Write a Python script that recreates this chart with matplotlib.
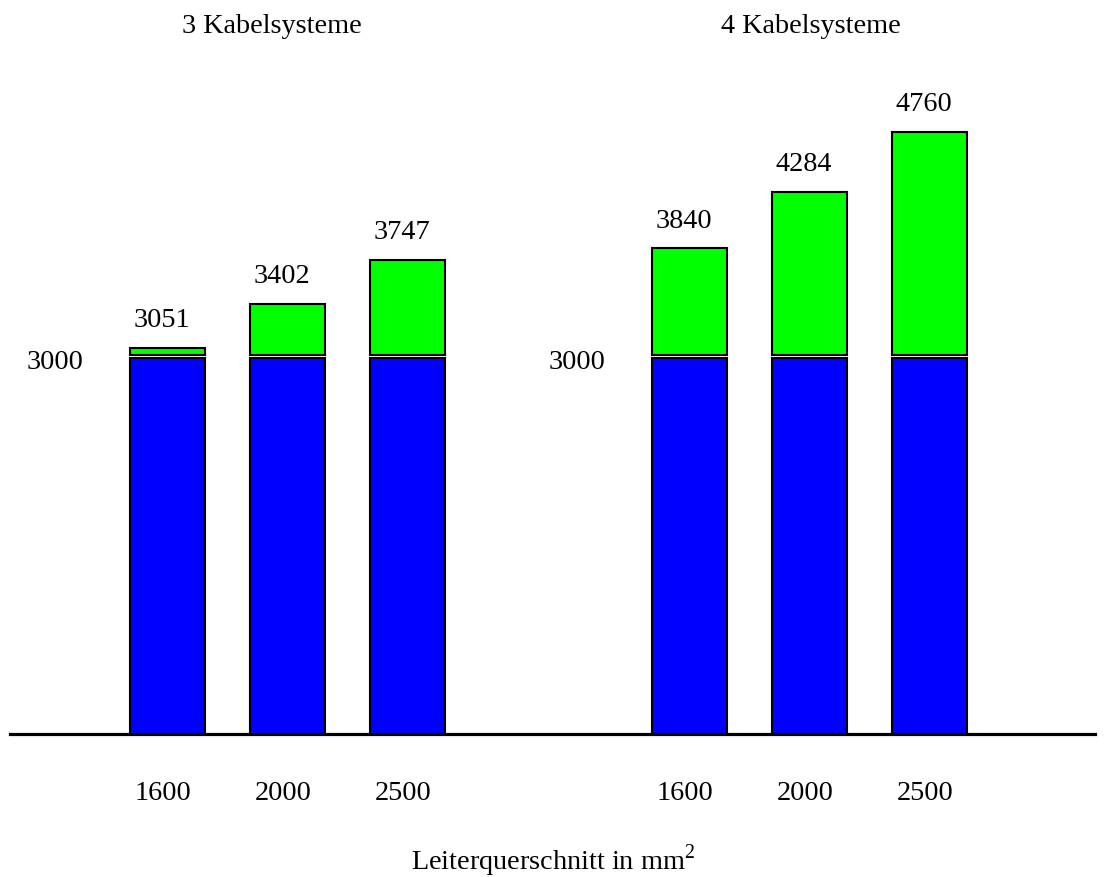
import matplotlib
matplotlib.use("Agg")
import matplotlib.pyplot as plt

plt.rcParams['font.family'] = ['Liberation Serif', 'DejaVu Serif']
plt.rcParams['mathtext.fontset'] = 'custom'
plt.rcParams['mathtext.rm'] = 'Liberation Serif'

# Data
groups = ["3 Kabelsysteme", "4 Kabelsysteme"]
cross_sections = ["1600", "2000", "2500"]
base_value = 3000
totals_3 = [3051, 3402, 3747]
totals_4 = [3840, 4284, 4760]

blue = "#0000FF"
green = "#00FF00"
fs = 20.3

fig = plt.figure(figsize=(11.06, 8.78), dpi=100)
ax = fig.add_axes([10 / 1106, 143.5 / 878, 1085 / 1106, 734.5 / 878])

width = 0.633
group_offset = 4.35
gap = 28  # white seam between base and extra part

for g, totals in enumerate([totals_3, totals_4]):
    pos = [i + g * group_offset for i in range(len(totals))]
    extra = [t - base_value for t in totals]
    ax.bar(pos, [base_value - gap] * len(pos), width=width, color=blue,
           edgecolor="black", linewidth=1.5)
    ax.bar(pos, extra, bottom=base_value, width=width, color=green,
           edgecolor="black", linewidth=1.5)
    for p, t, lab in zip(pos, totals, cross_sections):
        ax.annotate(str(t), (p, t), xytext=(-4.3, 15.8), textcoords="offset points",
                    ha="center", va="baseline", fontsize=fs)
        ax.annotate(lab, (p, 0), xytext=(-3, -47), textcoords="offset points",
                    ha="center", va="baseline", fontsize=fs)
    ax.annotate(str(base_value), (pos[0] - width / 2, base_value), xytext=(-33, -9.4),
                textcoords="offset points", ha="right", va="baseline", fontsize=fs)

ax.axhline(0, color="black", linewidth=2.3, clip_on=False)
ax.set_xlim(-1.3125, 7.729)
ax.set_ylim(0, 5815)
ax.axis("off")

fig.text(272 / 1106, 1 - 33 / 878, groups[0], ha="center", va="baseline", fontsize=fs)
fig.text(811 / 1106, 1 - 33 / 878, groups[1], ha="center", va="baseline", fontsize=fs)
fig.text(553 / 1106, 8 / 878, r"Leiterquerschnitt in mm$^2$", ha="center",
         va="baseline", fontsize=fs)

fig.savefig("out.png", dpi=100)
